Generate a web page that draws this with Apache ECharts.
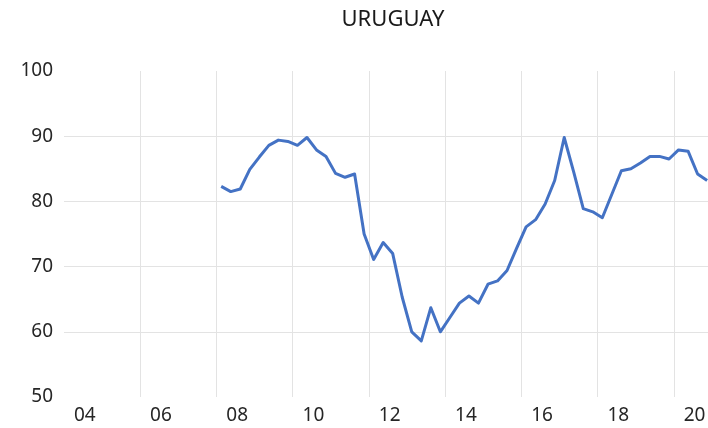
<!DOCTYPE html>
<html>
<head>
<meta charset="utf-8">
<script src="https://cdn.jsdelivr.net/npm/echarts@6/dist/echarts.min.js"></script>
<style>
html,body{margin:0;padding:0;background:#fff;overflow:hidden;width:708px;height:428px;}
#chart{width:750px;height:428px;}
</style>
</head>
<body>
<div id="chart"></div>
<script>
// Quarterly axis: 2004Q1 .. 2021Q4
var years = [2004,2005,2006,2007,2008,2009,2010,2011,2012,2013,2014,2015,2016,2017,2018,2019,2020,2021];
var quarters = ['Q1','Q2','Q3','Q4'];
var categories = [];
years.forEach(function(y){ quarters.forEach(function(q){ categories.push(y + q); }); });

// Values 2004Q1-2007Q4: no data
var emptyYears = [null,null,null,null, null,null,null,null, null,null,null,null, null,null,null,null];
// Values 2008Q1 .. 2020Q4
var uruguay = [
  82.3, 81.5, 81.9, 84.9,   // 2008
  86.8, 88.6, 89.4, 89.2,   // 2009
  88.6, 89.8, 87.9, 86.9,   // 2010
  84.3, 83.7, 84.2, 75.0,   // 2011
  71.1, 73.7, 72.0, 65.3,   // 2012
  60.0, 58.6, 63.7, 60.0,   // 2013
  62.2, 64.4, 65.5, 64.4,   // 2014
  67.3, 67.8, 69.4, 72.8,   // 2015
  76.1, 77.2, 79.6, 83.2,   // 2016
  89.8, 84.5, 78.9, 78.4,   // 2017
  77.5, 81.1, 84.7, 85.0,   // 2018
  85.9, 86.9, 86.9, 86.5,   // 2019
  87.9, 87.7, 84.2, 83.2    // 2020
];
var seriesValues = emptyYears.concat(uruguay);

var yTicks = [50, 60, 70, 80, 90, 100];

var chart = echarts.init(document.getElementById('chart'));
var font = '"Noto Sans", "DejaVu Sans", sans-serif';
chart.setOption({
  animation: false,
  backgroundColor: '#ffffff',
  title: {
    text: 'URUGUAY',
    left: 388,
    textAlign: 'center',
    top: 4,
    textStyle: { fontFamily: font, fontSize: 22, fontWeight: 'normal', color: '#1a1a1a' }
  },
  grid: { left: 64, right: 0, top: 71, bottom: 31, containLabel: false },
  xAxis: {
    type: 'category',
    data: categories,
    boundaryGap: true,
    axisLine: { show: false },
    axisTick: { show: false, interval: function(i){ return i % 8 === 0 && i > 0; } },
    splitLine: {
      show: true,
      interval: function(i){ return i % 8 === 0 && i > 0; },
      lineStyle: { color: '#e3e3e3', width: 1 }
    },
    axisLabel: {
      interval: function(i){ return i % 8 === 0; },
      formatter: function(v){ return v.substring(2, 4); },
      fontFamily: font,
      fontSize: 19,
      color: '#262626',
      margin: 9,
      align: 'center',
      padding: [0, 0, 0, 32]
    }
  },
  yAxis: {
    type: 'value',
    min: yTicks[0],
    max: yTicks[yTicks.length - 1],
    interval: 10,
    axisLine: { show: false },
    axisTick: { show: false },
    splitLine: { show: true, showMinLine: false, showMaxLine: false, lineStyle: { color: '#e3e3e3', width: 1 } },
    axisLabel: { fontFamily: font, fontSize: 19, color: '#262626', margin: 11 }
  },
  series: [{
    name: 'URUGUAY',
    type: 'line',
    data: seriesValues,
    showSymbol: false,
    symbol: 'none',
    connectNulls: false,
    lineStyle: { color: '#4472C4', width: 3, join: 'round' },
    itemStyle: { color: '#4472C4' }
  }]
});
</script>
</body>
</html>
